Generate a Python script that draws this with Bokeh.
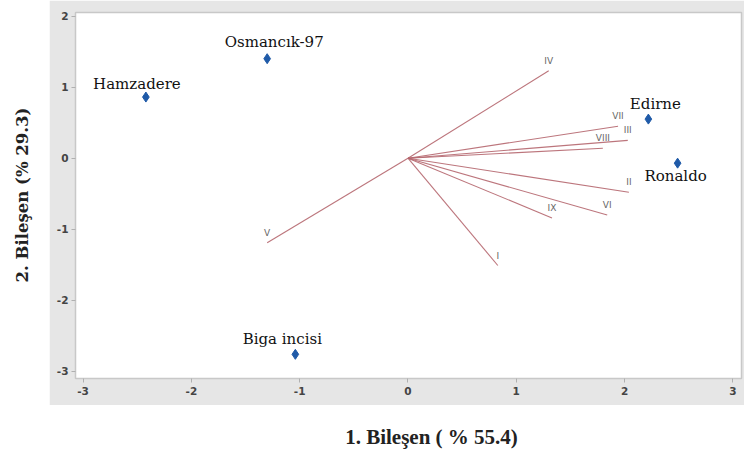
from bokeh.plotting import figure
from bokeh.models import ColumnDataSource, Label, FixedTicker
from bokeh.layouts import row, column
from bokeh.embed import file_html
from bokeh.resources import INLINE
from bokeh.core.properties import value

# Genotype scores
genotypes = ["Hamzadere", "Osmancık-97", "Edirne", "Ronaldo", "Biga incisi"]
pc1_scores = [-2.42, -1.30, 2.22, 2.49, -1.04]
pc2_scores = [0.86, 1.40, 0.55, -0.07, -2.76]
label_dx = [-9, 7, 7, -2, -13]
label_dy = [13, 17, 15, -13, 15]

# Trait loadings (vectors)
traits = ["I", "II", "III", "IV", "V", "VI", "VII", "VIII", "IX"]
pc1_load = [0.83, 2.04, 2.03, 1.30, -1.30, 1.84, 1.94, 1.80, 1.33]
pc2_load = [-1.51, -0.48, 0.25, 1.23, -1.19, -0.80, 0.45, 0.14, -0.84]

x_ticks = [-3, -2, -1, 0, 1, 2, 3]
y_ticks = [-3, -2, -1, 0, 1, 2]

GRAY = "#e6e6e6"

p = figure(width=695, height=405, x_range=(-3.07, 3.08), y_range=(-3.1, 2.05),
           output_backend="svg", toolbar_location=None,
           background_fill_color="white", border_fill_color=GRAY,
           min_border_left=26, min_border_right=3, min_border_top=12, min_border_bottom=27)
p.outline_line_color = "#c8c8c8"
p.outline_line_width = 1.5
p.grid.visible = False

for ax, ticks in ((p.xaxis[0], x_ticks), (p.yaxis[0], y_ticks)):
    ax.ticker = FixedTicker(ticks=ticks)
    ax.major_label_overrides = {t: str(t) for t in ticks}
    ax.axis_line_color = None
    ax.major_tick_line_color = "#b0b0b0"
    ax.minor_tick_line_color = None
    ax.major_tick_out = 4
    ax.major_tick_in = 0
    ax.major_label_text_font = "DejaVu Sans"
    ax.major_label_text_font_style = "bold"
    ax.major_label_text_font_size = "10.5px"
    ax.major_label_text_color = "#444444"
p.xaxis[0].major_label_standoff = 4
p.yaxis[0].major_label_standoff = 3

# vectors
xs = [[0, a] for a in pc1_load]
ys = [[0, b] for b in pc2_load]
vec_src = ColumnDataSource(dict(xs=xs, ys=ys, x=pc1_load, y=pc2_load, t=traits))
p.multi_line("xs", "ys", source=vec_src, line_color="#b5666e", line_width=1.1, line_alpha=0.9)
p.text("x", "y", text="t", source=vec_src, y_offset=-5, text_align="center",
       text_baseline="bottom", text_font=value("DejaVu Sans"), text_font_size="9px",
       text_color="#666666")

# genotypes
g_src = ColumnDataSource(dict(x=pc1_scores, y=pc2_scores, name=genotypes,
                              dx=label_dx, dy=[-d for d in label_dy]))
p.scatter("x", "y", source=g_src, marker="diamond", size=10, fill_color="#1f5aa8",
          line_color="#1f5aa8")
p.text("x", "y", text="name", source=g_src, x_offset="dx", y_offset="dy",
       text_align="center", text_baseline="middle",
       text_font=value("DejaVu Serif"), text_font_size="15px",
       text_color="#111111")

# y-axis title panel
yl = figure(width=49, height=405, x_range=(0, 49), y_range=(0, 405),
            output_backend="svg", toolbar_location=None,
            min_border=0, outline_line_color=None)
yl.axis.visible = False
yl.grid.visible = False
yl.add_layout(Label(x=22, y=203, text="2. Bileşen (% 29.3)", angle=1.5708,
                    text_align="center", text_baseline="middle",
                    text_font="DejaVu Serif", text_font_size="16.5px",
                    text_font_style="bold", text_color="#222222"))

# x-axis title panel
xl = figure(width=744, height=45, x_range=(0, 744), y_range=(0, 45),
            output_backend="svg", toolbar_location=None,
            min_border=0, outline_line_color=None)
xl.axis.visible = False
xl.grid.visible = False
xl.add_layout(Label(x=431, y=14, text="1. Bileşen ( % 55.4)",
                    text_align="center", text_baseline="middle",
                    text_font="Liberation Serif", text_font_size="21px",
                    text_font_style="bold", text_color="#222222"))

layout = column(row(yl, p, spacing=0), xl, spacing=0)
open("out.html", "w").write(file_html(layout, INLINE))
